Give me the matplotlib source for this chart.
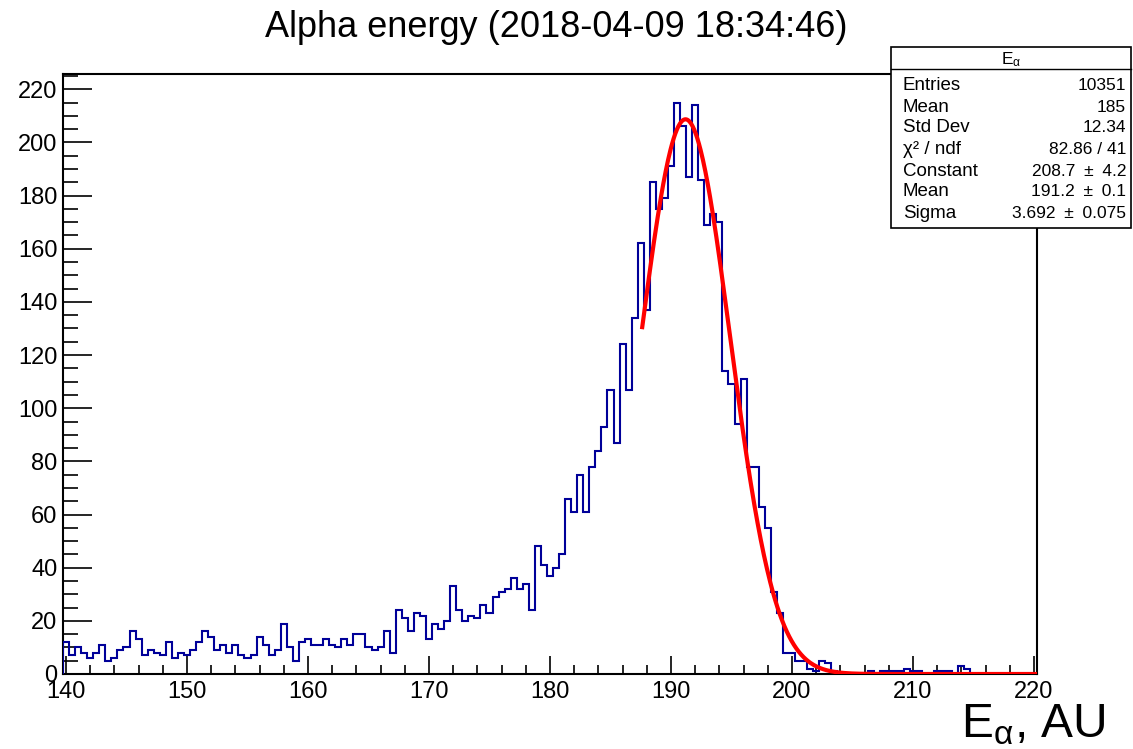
import numpy as np
import matplotlib
matplotlib.use('Agg')
import matplotlib.pyplot as plt
from matplotlib.patches import Rectangle
from matplotlib.lines import Line2D
from matplotlib.ticker import MultipleLocator

plt.rcParams['font.family'] = ['Liberation Sans', 'DejaVu Sans']
plt.rcParams['mathtext.fontset'] = 'custom'
plt.rcParams['mathtext.rm'] = 'Liberation Sans'
plt.rcParams['mathtext.it'] = 'Liberation Sans:italic'
plt.rcParams['mathtext.default'] = 'regular'

# ---------------- data ----------------
bin_low = 139.75
bin_width = 0.5
counts = [
    12, 7, 10, 8, 6, 8, 11, 5, 6, 9, 10, 16, 13, 7, 9, 8,
    7, 12, 6, 8, 7, 9, 12, 16, 14, 9, 11, 8, 11, 7, 6, 7,
    14, 11, 7, 9, 19, 10, 5, 12, 13, 11, 11, 13, 11, 10, 13, 11,
    15, 15, 10, 9, 10, 16, 8, 24, 21, 16, 23, 22, 13, 19, 17, 20,
    33, 24, 20, 22, 21, 26, 23, 29, 31, 32, 36, 32, 34, 24,
    48, 41, 37, 40, 45, 66, 61, 75, 61,
    78, 84, 93, 107, 87, 124, 107, 134, 162, 137,
    185, 175, 179, 191, 215, 206, 187, 214, 186, 169,
    173, 170, 114, 109, 94, 111, 78, 78, 63, 55,
    31, 23, 8, 8, 5, 5, 2, 1, 5, 4, 1,
    0, 0, 0, 0, 0,
    1, 0, 1, 1, 1, 1, 2, 1, 1, 0, 0, 1, 1, 1, 0, 3, 2,
    0, 0, 0, 0, 0, 0, 0, 0, 0, 0, 0,
]

fit_constant = 208.7
fit_mean = 191.2
fit_sigma = 3.692
fit_start = 187.6

title = "Alpha energy (2018-04-09 18:34:46)"
xlabel = r"E$_{\alpha}$, AU"
stats_title = r"E$_{\alpha}$"
stats_labels = ["Entries", "Mean", "Std Dev", "\u03c7\u00b2 / ndf", "Constant", "Mean", "Sigma"]
stats_values = ["10351", "185", "12.34", "82.86 / 41",
                "208.7\u2002\u00b1\u20024.2", "191.2\u2002\u00b1\u20020.1", "3.692\u2002\u00b1\u20020.075"]

x_major = list(range(140, 221, 10))
y_major = list(range(0, 221, 20))

# ---------------- figure ----------------
W, H = 1133, 749
fig = plt.figure(figsize=(W / 100, H / 100), dpi=100)
fig.patch.set_facecolor('white')


def fx(px):
    return px / W


def fy(py):
    return 1 - py / H


ax = fig.add_axes([fx(63), fy(674), 974 / W, 600 / H])

edges = bin_low + bin_width * np.arange(len(counts) + 1)
ax.stairs(counts, edges, color='#000099', lw=1.5, baseline=0, zorder=3)

xf = np.linspace(fit_start, edges[-1], 500)
yf = fit_constant * np.exp(-0.5 * ((xf - fit_mean) / fit_sigma) ** 2)
ax.plot(xf, yf, color='#ff0000', lw=3.0, zorder=4, solid_capstyle='butt')

ax.set_xlim(edges[0], edges[-1])
ax.set_ylim(0, 1.05 * max(counts))

ax.set_xticks(x_major)
ax.set_yticks(y_major)
ax.xaxis.set_minor_locator(MultipleLocator(2))
ax.yaxis.set_minor_locator(MultipleLocator(5))
ax.tick_params(axis='x', which='major', direction='in', length=13, width=1.2,
               labelsize=17, pad=5)
ax.tick_params(axis='x', which='minor', direction='in', length=6.5, width=1.2)
ax.tick_params(axis='y', which='major', direction='in', length=21, width=1.2,
               labelsize=17, pad=4)
ax.tick_params(axis='y', which='minor', direction='in', length=10.5, width=1.2)
for s in ax.spines.values():
    s.set_linewidth(1.5)

# title
fig.text(fx(556.5), fy(37), title, ha='center', va='baseline', fontsize=26)

# x label
fig.text(fx(1106), fy(737), xlabel, ha='right', va='baseline', fontsize=34.5)

# stats box
box_l, box_r, box_t, box_b = 891, 1131, 47, 228
fig.patches.append(Rectangle((fx(box_l), fy(box_b)), (box_r - box_l) / W, (box_b - box_t) / H,
                             transform=fig.transFigure, facecolor='white',
                             edgecolor='black', lw=1.2, zorder=5))
fig.lines.append(Line2D([fx(box_l), fx(box_r)], [fy(69), fy(69)], transform=fig.transFigure,
                        color='black', lw=1.0, zorder=6))
fig.text(fx(1011), fy(64), stats_title, ha='center', va='baseline', fontsize=12.5, zorder=7)
baselines = [90, 111.5, 132.5, 154, 175.5, 196.5, 218]
for lab, val, b in zip(stats_labels, stats_values, baselines):
    fig.text(fx(903), fy(b), lab, ha='left', va='baseline', fontsize=13.5, zorder=7)
    fig.text(fx(1126), fy(b), val, ha='right', va='baseline', fontsize=12.5, zorder=7)

fig.savefig('out.png', dpi=100)
